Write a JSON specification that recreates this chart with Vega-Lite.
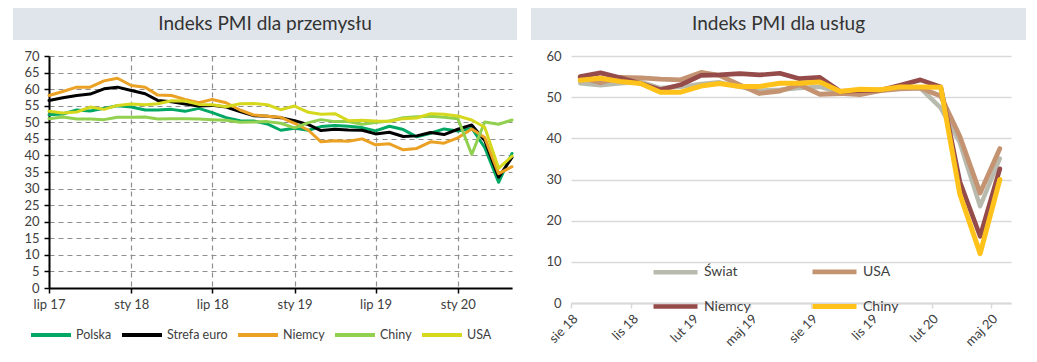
{
  "$schema": "https://vega.github.io/schema/vega-lite/v6.json",
  "padding": {"left": 12, "top": 8, "right": 5, "bottom": 5},
  "background": "white",
  "config": {
    "font": "Lato",
    "view": {"stroke": null},
    "axis": {"labelFont": "Lato", "labelFontSize": 13, "labelColor": "#404040"},
    "legend": {"labelFont": "Lato", "labelFontSize": 13, "labelColor": "#404040"}
  },
  "resolve": {"scale": {"color": "independent", "strokeWidth": "independent"}, "legend": {"color": "independent", "strokeWidth": "independent"}},
  "spacing": 13,
  "hconcat": [
    {
      "resolve": {"scale": {"color": "independent"}, "legend": {"color": "independent"}},
      "concat": [
        {"width": 1, "height": 1, "data": {"values": []}, "mark": {"type": "point"}},
        {
          "width": 504, "height": 32,
          "view": {"fill": "#dfe5ea", "stroke": null},
          "data": {"values": [{"t": "Indeks PMI dla przemysłu"}]},
          "mark": {"type": "text", "fontSize": 19, "color": "#333333", "font": "Lato"},
          "encoding": {"text": {"field": "t", "type": "nominal"}}
        },
        {"width": 1, "height": 1, "data": {"values": []}, "mark": {"type": "point"}},
        {
          "width": 463, "height": 232,
          "data": {"values": [
            {"d":"2017-07-01","Polska":52.3,"Strefa euro":56.6,"Niemcy":58.1,"Chiny":51.1,"USA":53.3},
            {"d":"2017-08-01","Polska":52.5,"Strefa euro":57.4,"Niemcy":59.3,"Chiny":51.6,"USA":52.8},
            {"d":"2017-09-01","Polska":53.7,"Strefa euro":58.1,"Niemcy":60.6,"Chiny":51.0,"USA":53.1},
            {"d":"2017-10-01","Polska":53.4,"Strefa euro":58.5,"Niemcy":60.6,"Chiny":51.0,"USA":54.6},
            {"d":"2017-11-01","Polska":54.2,"Strefa euro":60.1,"Niemcy":62.5,"Chiny":50.8,"USA":53.9},
            {"d":"2017-12-01","Polska":55.0,"Strefa euro":60.6,"Niemcy":63.3,"Chiny":51.5,"USA":55.1},
            {"d":"2018-01-01","Polska":54.6,"Strefa euro":59.6,"Niemcy":61.1,"Chiny":51.5,"USA":55.5},
            {"d":"2018-02-01","Polska":53.7,"Strefa euro":58.6,"Niemcy":60.6,"Chiny":51.6,"USA":55.3},
            {"d":"2018-03-01","Polska":53.7,"Strefa euro":56.6,"Niemcy":58.2,"Chiny":51.0,"USA":55.6},
            {"d":"2018-04-01","Polska":53.9,"Strefa euro":56.2,"Niemcy":58.1,"Chiny":51.1,"USA":56.5},
            {"d":"2018-05-01","Polska":53.3,"Strefa euro":55.5,"Niemcy":56.9,"Chiny":51.1,"USA":56.4},
            {"d":"2018-06-01","Polska":54.2,"Strefa euro":54.9,"Niemcy":55.9,"Chiny":51.0,"USA":55.4},
            {"d":"2018-07-01","Polska":52.9,"Strefa euro":55.1,"Niemcy":56.9,"Chiny":50.8,"USA":55.3},
            {"d":"2018-08-01","Polska":51.4,"Strefa euro":54.6,"Niemcy":55.9,"Chiny":50.6,"USA":54.7},
            {"d":"2018-09-01","Polska":50.5,"Strefa euro":53.2,"Niemcy":53.7,"Chiny":50.0,"USA":55.6},
            {"d":"2018-10-01","Polska":50.4,"Strefa euro":52.0,"Niemcy":52.2,"Chiny":50.1,"USA":55.7},
            {"d":"2018-11-01","Polska":49.5,"Strefa euro":51.8,"Niemcy":51.8,"Chiny":50.2,"USA":55.3},
            {"d":"2018-12-01","Polska":47.6,"Strefa euro":51.4,"Niemcy":51.5,"Chiny":49.7,"USA":53.8},
            {"d":"2019-01-01","Polska":48.2,"Strefa euro":50.5,"Niemcy":49.7,"Chiny":48.3,"USA":54.9},
            {"d":"2019-02-01","Polska":47.6,"Strefa euro":49.3,"Niemcy":47.6,"Chiny":49.9,"USA":53.0},
            {"d":"2019-03-01","Polska":48.7,"Strefa euro":47.5,"Niemcy":44.1,"Chiny":50.8,"USA":52.4},
            {"d":"2019-04-01","Polska":49.0,"Strefa euro":47.9,"Niemcy":44.4,"Chiny":50.2,"USA":52.6},
            {"d":"2019-05-01","Polska":48.8,"Strefa euro":47.7,"Niemcy":44.3,"Chiny":50.2,"USA":50.5},
            {"d":"2019-06-01","Polska":48.4,"Strefa euro":47.6,"Niemcy":45.0,"Chiny":49.4,"USA":50.6},
            {"d":"2019-07-01","Polska":47.4,"Strefa euro":46.5,"Niemcy":43.2,"Chiny":49.9,"USA":50.4},
            {"d":"2019-08-01","Polska":48.8,"Strefa euro":47.0,"Niemcy":43.5,"Chiny":50.4,"USA":50.3},
            {"d":"2019-09-01","Polska":47.8,"Strefa euro":45.7,"Niemcy":41.7,"Chiny":51.4,"USA":51.1},
            {"d":"2019-10-01","Polska":45.6,"Strefa euro":45.9,"Niemcy":42.1,"Chiny":51.7,"USA":51.3},
            {"d":"2019-11-01","Polska":46.7,"Strefa euro":46.9,"Niemcy":44.1,"Chiny":51.8,"USA":52.6},
            {"d":"2019-12-01","Polska":48.0,"Strefa euro":46.3,"Niemcy":43.7,"Chiny":51.5,"USA":52.4},
            {"d":"2020-01-01","Polska":47.4,"Strefa euro":47.9,"Niemcy":45.3,"Chiny":51.1,"USA":51.9},
            {"d":"2020-02-01","Polska":48.2,"Strefa euro":49.2,"Niemcy":48.0,"Chiny":40.3,"USA":50.7},
            {"d":"2020-03-01","Polska":42.4,"Strefa euro":44.5,"Niemcy":45.4,"Chiny":50.1,"USA":48.5},
            {"d":"2020-04-01","Polska":31.9,"Strefa euro":33.4,"Niemcy":34.5,"Chiny":49.4,"USA":36.1},
            {"d":"2020-05-01","Polska":40.6,"Strefa euro":39.4,"Niemcy":36.6,"Chiny":50.7,"USA":39.8}
          ]},
          "transform": [{"fold": ["Polska", "Strefa euro", "Niemcy", "Chiny", "USA"], "as": ["seria", "wartosc"]}],
          "mark": {"type": "line", "strokeWidth": 3, "strokeJoin": "round", "strokeCap": "round"},
          "encoding": {
            "x": {
              "field": "d", "type": "temporal",
              "scale": {"type": "utc", "domain": [{"year": 2017, "month": 7, "date": 1, "utc": true}, {"year": 2020, "month": 5, "date": 1, "utc": true}]},
              "axis": {
                "title": null,
                "values": [
                  {"year": 2017, "month": 7, "date": 1, "utc": true},
                  {"year": 2018, "month": 1, "date": 1, "utc": true},
                  {"year": 2018, "month": 7, "date": 1, "utc": true},
                  {"year": 2019, "month": 1, "date": 1, "utc": true},
                  {"year": 2019, "month": 7, "date": 1, "utc": true},
                  {"year": 2020, "month": 1, "date": 1, "utc": true}
                ],
                "labelExpr": "['sty','lut','mar','kwi','maj','cze','lip','sie','wrz','paź','lis','gru'][utcmonth(datum.value)] + ' ' + utcFormat(datum.value, '%y')",
                "labelFlush": false, "labelOverlap": false,
                "grid": true, "gridDash": [5, 4], "gridColor": "#8f8f8f", "gridWidth": 1.2,
                "domainColor": "#000000", "domainWidth": 2,
                "tickColor": "#000000", "tickWidth": 1.5, "tickSize": 5,
                "labelPadding": 5
              }
            },
            "y": {
              "field": "wartosc", "type": "quantitative",
              "scale": {"domain": [0, 70], "nice": false},
              "axis": {
                "title": null,
                "values": [0, 5, 10, 15, 20, 25, 30, 35, 40, 45, 50, 55, 60, 65, 70],
                "grid": true, "gridDash": [5, 4], "gridColor": "#8f8f8f", "gridWidth": 1.2,
                "domainColor": "#000000", "domainWidth": 2,
                "tickColor": "#000000", "tickWidth": 1.5, "tickSize": 5,
                "labelPadding": 5, "minExtent": 36, "maxExtent": 36
              }
            },
            "color": {
              "field": "seria", "type": "nominal",
              "scale": {"domain": ["Polska", "Strefa euro", "Niemcy", "Chiny", "USA"], "range": ["#00a864", "#000000", "#eba123", "#92d050", "#d6d81e"]},
              "legend": {
                "title": null, "orient": "none", "legendX": -20, "legendY": 257,
                "direction": "horizontal", "columns": 5, "symbolType": "stroke", "symbolSize": 1600,
                "symbolStrokeWidth": 4, "labelOffset": 3, "columnPadding": 2, "labelLimit": 90,
                "labelFontSize": 12.5
              }
            }
          }
        }
      ],
      "columns": 2, "align": "none", "spacing": {"row": 10, "column": 0}
    },
    {
      "resolve": {"scale": {"color": "independent", "strokeWidth": "independent"}, "legend": {"color": "independent", "strokeWidth": "independent"}},
      "concat": [
        {"width": 1, "height": 1, "data": {"values": []}, "mark": {"type": "point"}},
        {
          "width": 495, "height": 32,
          "view": {"fill": "#dfe5ea", "stroke": null},
          "data": {"values": [{"t": "Indeks PMI dla usług"}]},
          "mark": {"type": "text", "fontSize": 19, "color": "#333333", "font": "Lato"},
          "encoding": {"text": {"field": "t", "type": "nominal"}}
        },
        {"width": 1, "height": 1, "data": {"values": []}, "mark": {"type": "point"}},
        {
          "width": 440, "height": 247,
          "data": {"values": [
            {"d":"2018-08-15","Świat":53.4,"USA":54.8,"Niemcy":55.0,"Chiny":54.1},
            {"d":"2018-09-15","Świat":52.9,"USA":53.5,"Niemcy":55.9,"Chiny":54.6},
            {"d":"2018-10-15","Świat":53.4,"USA":54.8,"Niemcy":54.7,"Chiny":53.8},
            {"d":"2018-11-15","Świat":53.7,"USA":54.7,"Niemcy":53.3,"Chiny":53.3},
            {"d":"2018-12-15","Świat":52.2,"USA":54.4,"Niemcy":51.8,"Chiny":51.2},
            {"d":"2019-01-15","Świat":52.5,"USA":54.2,"Niemcy":53.0,"Chiny":51.2},
            {"d":"2019-02-15","Świat":53.2,"USA":56.0,"Niemcy":55.3,"Chiny":52.7},
            {"d":"2019-03-15","Świat":53.6,"USA":55.3,"Niemcy":55.4,"Chiny":53.3},
            {"d":"2019-04-15","Świat":52.5,"USA":53.0,"Niemcy":55.7,"Chiny":52.6},
            {"d":"2019-05-15","Świat":51.6,"USA":50.9,"Niemcy":55.4,"Chiny":52.6},
            {"d":"2019-06-15","Świat":51.8,"USA":51.5,"Niemcy":55.8,"Chiny":53.4},
            {"d":"2019-07-15","Świat":52.2,"USA":53.0,"Niemcy":54.5,"Chiny":53.4},
            {"d":"2019-08-15","Świat":52.5,"USA":50.7,"Niemcy":54.8,"Chiny":53.7},
            {"d":"2019-09-15","Świat":51.2,"USA":50.9,"Niemcy":51.4,"Chiny":51.4},
            {"d":"2019-10-15","Świat":51.4,"USA":50.6,"Niemcy":51.6,"Chiny":51.9},
            {"d":"2019-11-15","Świat":51.6,"USA":51.6,"Niemcy":51.7,"Chiny":51.8},
            {"d":"2019-12-15","Świat":52.2,"USA":52.0,"Niemcy":52.9,"Chiny":52.5},
            {"d":"2020-01-15","Świat":52.2,"USA":52.2,"Niemcy":54.2,"Chiny":52.5},
            {"d":"2020-02-15","Świat":47.4,"USA":50.3,"Niemcy":52.5,"Chiny":52.4},
            {"d":"2020-03-15","Świat":39.0,"USA":40.5,"Niemcy":29.5,"Chiny":26.5},
            {"d":"2020-04-15","Świat":23.5,"USA":26.7,"Niemcy":16.2,"Chiny":12.0},
            {"d":"2020-05-15","Świat":35.1,"USA":37.5,"Niemcy":32.6,"Chiny":30.0}
          ]},
          "transform": [{"fold": ["Świat", "USA", "Niemcy", "Chiny"], "as": ["seria", "wartosc"]}],
          "mark": {"type": "line", "strokeJoin": "round", "strokeCap": "round"},
          "encoding": {
            "x": {
              "field": "d", "type": "temporal",
              "scale": {"type": "utc", "domain": [{"year": 2018, "month": 8, "date": 1, "utc": true}, {"year": 2020, "month": 6, "date": 1, "utc": true}]},
              "axis": {
                "title": null,
                "values": [
                  {"year": 2018, "month": 8, "date": 1, "utc": true},
                  {"year": 2018, "month": 11, "date": 1, "utc": true},
                  {"year": 2019, "month": 2, "date": 1, "utc": true},
                  {"year": 2019, "month": 5, "date": 1, "utc": true},
                  {"year": 2019, "month": 8, "date": 1, "utc": true},
                  {"year": 2019, "month": 11, "date": 1, "utc": true},
                  {"year": 2020, "month": 2, "date": 1, "utc": true},
                  {"year": 2020, "month": 5, "date": 1, "utc": true}
                ],
                "labelExpr": "['sty','lut','mar','kwi','maj','cze','lip','sie','wrz','paź','lis','gru'][utcmonth(datum.value)] + ' ' + utcFormat(datum.value, '%y')",
                "labelAngle": -45, "labelFlush": false, "labelOverlap": false,
                "grid": false,
                "domainColor": "#d9d9d9", "domainWidth": 2,
                "tickColor": "#d9d9d9", "tickWidth": 1.5, "tickSize": 5,
                "labelPadding": 4
              }
            },
            "y": {
              "field": "wartosc", "type": "quantitative",
              "scale": {"domain": [0, 60], "nice": false},
              "axis": {
                "title": null,
                "values": [0, 10, 20, 30, 40, 50, 60],
                "grid": true, "gridColor": "#d9d9d9", "gridWidth": 1.5,
                "domain": false, "ticks": false,
                "labelPadding": 10, "minExtent": 40, "maxExtent": 40
              }
            },
            "strokeWidth": {
              "field": "seria", "type": "nominal",
              "scale": {"domain": ["Świat", "Niemcy", "USA", "Chiny"], "range": [4.5, 5, 4.5, 3.5]},
              "legend": null
            },
            "color": {
              "field": "seria", "type": "nominal",
              "scale": {"domain": ["Świat", "Niemcy", "USA", "Chiny"], "range": ["#b9baae", "#964b4b", "#c49372", "#ffc21a"]},
              "legend": {
                "title": null, "orient": "none", "legendX": 80, "legendY": 191,
                "columns": 2, "symbolType": "stroke", "symbolSize": 1936,
                "symbolStrokeWidth": 5, "labelOffset": 4, "columnPadding": 51, "rowPadding": 0,
                "labelFontSize": 14
              }
            }
          }
        }
      ],
      "columns": 2, "align": "none", "spacing": {"row": 10, "column": 0}
    }
  ]
}
